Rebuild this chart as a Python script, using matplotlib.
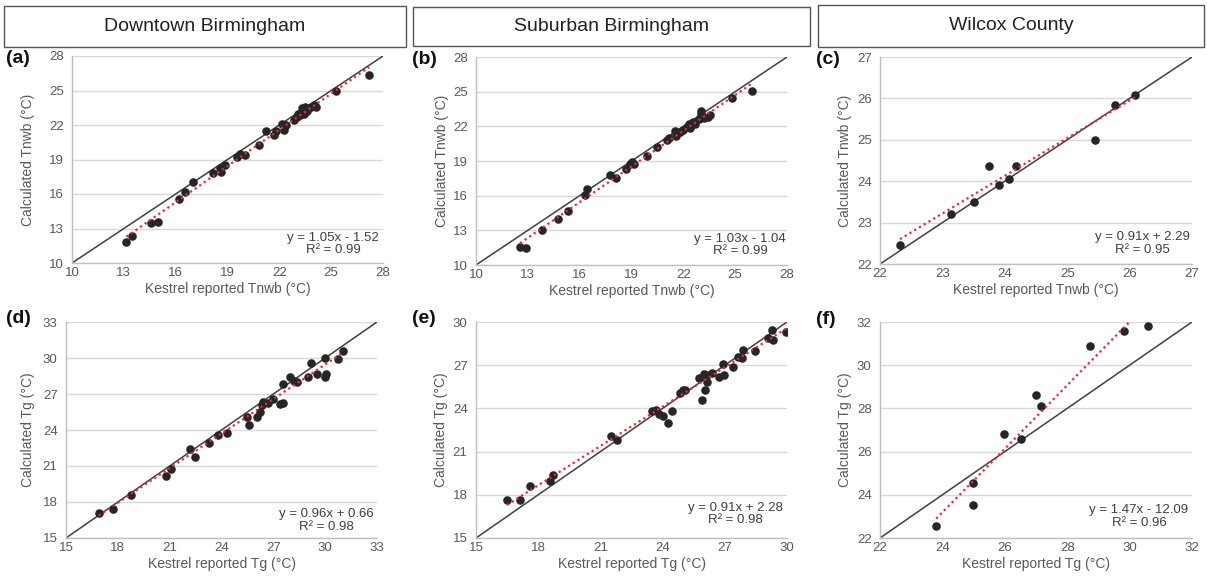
import matplotlib
matplotlib.use("Agg")
import matplotlib.pyplot as plt
from matplotlib.patches import Rectangle
import numpy as np

plt.rcParams['font.family'] = ['Liberation Sans', 'DejaVu Sans']

# ---------------- data ----------------
site_titles = ["Downtown Birmingham", "Suburban Birmingham", "Wilcox County"]
panel_letters = ["(a)", "(b)", "(c)", "(d)", "(e)", "(f)"]

a_x = [13.15, 13.5, 14.6, 14.95, 16.2, 16.55, 17.0, 18.15, 18.55, 18.65, 18.85, 19.55, 19.75, 20.0,
       20.8, 21.2, 21.7, 21.8, 22.15, 22.25, 22.4, 22.85, 23.0, 23.1, 23.2, 23.3, 23.4, 23.5,
       23.45, 23.6, 23.85, 24.0, 24.15, 25.3, 27.2]
a_y = [11.8, 12.35, 13.5, 13.6, 15.6, 16.15, 17.05, 17.85, 18.25, 17.95, 18.5, 19.2, 19.45, 19.4,
       20.25, 21.5, 21.1, 21.45, 22.1, 21.6, 22.0, 22.45, 22.7, 23.0, 22.85, 23.45, 23.1, 23.55,
       22.95, 23.25, 23.6, 23.7, 23.55, 25.0, 26.35]

b_x = [12.55, 12.9, 13.8, 14.75, 15.35, 16.3, 16.45, 17.75, 18.1, 18.7, 18.9, 19.05, 19.15, 19.9,
       20.5, 21.05, 21.15, 21.5, 21.6, 21.8, 22.0, 22.2, 22.35, 22.4, 22.55, 22.7, 22.9, 23.0,
       23.05, 23.2, 23.4, 23.55, 24.8, 25.95]
b_y = [11.6, 11.5, 13.05, 13.95, 14.7, 16.05, 16.6, 17.8, 17.55, 18.3, 18.7, 18.9, 18.75, 19.45,
       20.25, 20.85, 21.0, 21.6, 21.15, 21.5, 21.7, 21.9, 22.2, 21.85, 22.35, 22.2, 22.6, 23.3,
       23.05, 22.7, 22.8, 23.0, 24.45, 25.1]

c_x = [22.32, 23.14, 23.5, 23.75, 23.9, 24.07, 24.18, 25.44, 25.77, 26.09]
c_y = [22.45, 23.2, 23.5, 24.36, 23.9, 24.06, 24.36, 24.99, 25.83, 26.09]

d_x = [16.9, 17.7, 18.75, 20.8, 21.1, 22.2, 22.45, 23.25, 23.8, 24.33, 25.46, 25.6, 26.04, 26.23,
       26.42, 26.7, 27.0, 27.38, 27.58, 27.54, 27.96, 28.35, 29.02, 29.5, 29.16, 29.99, 30.05,
       29.99, 30.76, 31.05, 28.2, 26.35]
d_y = [17.1, 17.45, 18.55, 20.15, 20.75, 22.45, 21.75, 22.95, 23.6, 23.73, 25.06, 24.4, 25.1, 25.53,
       26.36, 26.28, 26.56, 26.17, 26.28, 27.83, 28.39, 28.0, 28.44, 28.7, 29.56, 29.98, 28.67,
       28.4, 29.9, 30.6, 28.1, 26.05]

e_x = [16.5, 17.1, 17.6, 18.55, 18.7, 21.5, 21.8, 23.5, 23.7, 23.85, 24.0, 24.25, 24.45, 24.85,
       25.0, 25.1, 25.77, 25.89, 26.05, 26.13, 26.16, 26.37, 26.74, 26.9, 26.96, 27.41, 27.66,
       27.82, 27.9, 28.46, 29.1, 29.26, 29.34, 29.95, 26.0]
e_y = [17.65, 17.65, 18.6, 18.95, 19.4, 22.05, 21.8, 23.85, 23.9, 23.6, 23.45, 23.0, 23.8, 25.1,
       25.28, 25.3, 26.09, 24.58, 25.28, 26.32, 25.85, 26.44, 26.16, 27.08, 26.32, 26.9, 27.6,
       27.48, 28.06, 28.0, 28.87, 29.44, 28.75, 29.33, 26.4]

f_x = [23.8, 24.97, 24.97, 25.96, 26.52, 27.0, 27.15, 28.72, 29.81, 30.58]
f_y = [22.54, 23.52, 24.55, 26.8, 26.58, 28.63, 28.11, 30.9, 31.57, 31.83]

slopes = [1.05, 1.03, 0.91, 0.96, 0.91, 1.47]
intercepts = [-1.52, -1.04, 2.29, 0.66, 2.28, -12.09]
eq_texts = ["y = 1.05x - 1.52\nR² = 0.99", "y = 1.03x - 1.04\nR² = 0.99", "y = 0.91x + 2.29\nR² = 0.95",
            "y = 0.96x + 0.66\nR² = 0.98", "y = 0.91x + 2.28\nR² = 0.98", "y = 1.47x - 12.09\nR² = 0.96"]

x_labels = ["Kestrel reported Tnwb (°C)"] * 3 + ["Kestrel reported Tg (°C)"] * 3
y_labels = ["Calculated Tnwb (°C)"] * 3 + ["Calculated Tg (°C)"] * 3
limits = [(10, 28), (10, 28), (22, 27), (15, 33), (15, 30), (22, 32)]
steps = [3, 3, 1, 3, 3, 2]

xs = [a_x, b_x, c_x, d_x, e_x, f_x]
ys = [a_y, b_y, c_y, d_y, e_y, f_y]

# ---------------- layout ----------------
W, H = 1207, 579
fig = plt.figure(figsize=(W / 100, H / 100), dpi=100)

def px_rect(x0, y0, x1, y1):
    return [x0 / W, 1 - y1 / H, (x1 - x0) / W, (y1 - y0) / H]

axes_px = [(72, 56, 383, 263), (476, 57, 787, 265), (880, 57, 1192, 264),
           (66, 322, 377, 538), (476, 322, 787, 538), (880, 322, 1192, 538)]
eq_pos = [(0.84, 0.092), (0.85, 0.096), (0.84, 0.097), (0.836, 0.083), (0.833, 0.111), (0.83, 0.10)]
letter_px = [(6, 50), (412, 51), (816, 51), (6, 310), (412, 310), (816, 311)]
ylabel_x = [-0.141, -0.109, -0.112, -0.122, -0.1125, -0.112]

# header boxes
box_px = [(4, 6, 406, 47), (413, 7, 810, 46), (818, 5, 1204, 47)]
for (x0, y0, x1, y1), t in zip(box_px, site_titles):
    fig.patches.append(Rectangle((x0 / W, 1 - y1 / H), (x1 - x0) / W, (y1 - y0) / H,
                                 transform=fig.transFigure, fill=False, edgecolor='#555555',
                                 linewidth=1.0))
    fig.text((x0 + x1) / 2 / W, 1 - (y0 + y1) / 2 / H, t, ha='center', va='center',
             fontsize=14, color='#222222')

tick_col = '#595959'
for i in range(6):
    ax = fig.add_axes(px_rect(*axes_px[i]))
    lo, hi = limits[i]
    ax.set_xlim(lo, hi)
    ax.set_ylim(lo, hi)
    ticks = np.arange(lo, hi + 0.01, steps[i])
    ax.set_xticks(ticks)
    ax.set_yticks(ticks)
    ax.yaxis.grid(True, color='#d9d9d9', linewidth=1.0)
    ax.set_axisbelow(True)
    for s in ['top', 'right']:
        ax.spines[s].set_visible(False)
    for s in ['left', 'bottom']:
        ax.spines[s].set_color('#bfbfbf')
        ax.spines[s].set_linewidth(1.0)
    ax.tick_params(length=0, labelsize=9.5, labelcolor=tick_col)
    ax.tick_params(axis='y', pad=6)
    ax.tick_params(axis='x', pad=3)
    ax.set_xlabel(x_labels[i], fontsize=10, color=tick_col, labelpad=2)
    ax.set_ylabel(y_labels[i], fontsize=10, color=tick_col)
    ax.yaxis.set_label_coords(ylabel_x[i], 0.5)
    ax.yaxis.label.set_va('center')

    # 1:1 line
    ax.plot([lo, hi], [lo, hi], color='#404040', linewidth=1.1, zorder=2)
    # points
    ax.scatter(xs[i], ys[i], s=38, color='#262626', zorder=3, linewidths=0)
    # trend line
    xr = np.array([min(xs[i]), max(xs[i])])
    ax.plot(xr, slopes[i] * xr + intercepts[i], linestyle=(0, (1, 1.5)), color='#e8283a',
            linewidth=1.6, zorder=4)
    ax.text(eq_pos[i][0], eq_pos[i][1], eq_texts[i], transform=ax.transAxes, ha='center',
            va='center', multialignment='center', fontsize=9.5, color='#404040', linespacing=1.1)

    lx, ly = letter_px[i]
    fig.text(lx / W, 1 - ly / H, panel_letters[i], ha='left', va='top', fontsize=14,
             fontweight='bold', color='#111111')

fig.savefig("out.png", dpi=100)
